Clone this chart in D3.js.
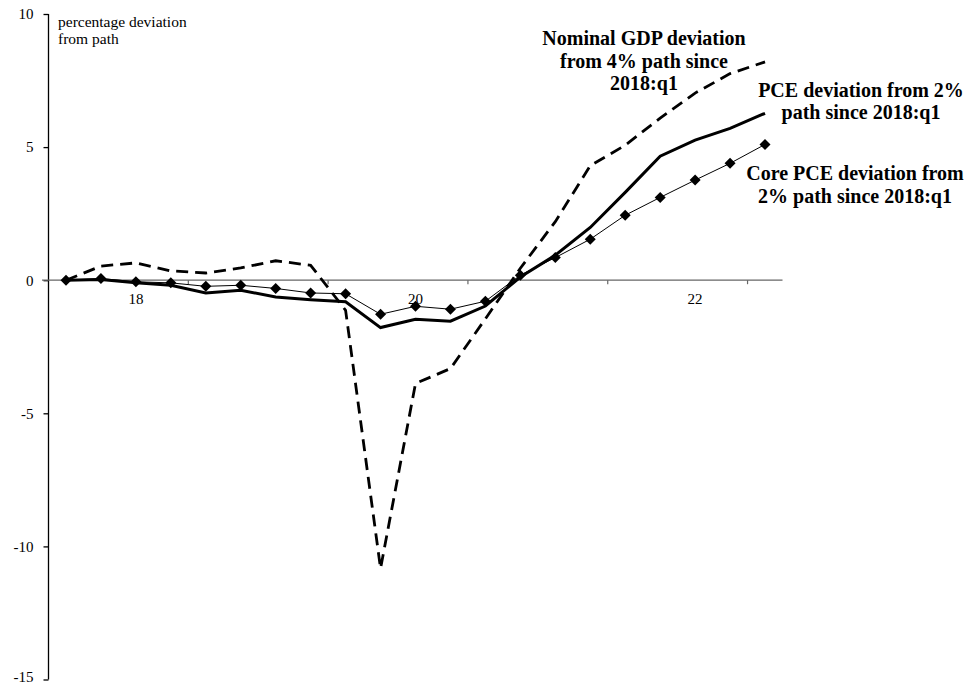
<!DOCTYPE html>
<html>
<head>
<meta charset="utf-8">
<script src="https://cdn.jsdelivr.net/npm/d3@7"></script>
<style>
  html, body { margin: 0; padding: 0; background: #fff; }
  svg { display: block; }
  text { font-family: "Liberation Serif", "Times New Roman", serif; fill: #000; }
</style>
</head>
<body>
<svg id="chart" width="971" height="686"></svg>
<script>
// ---- data ----
const quarters = [
  "2018Q1","2018Q2","2018Q3","2018Q4",
  "2019Q1","2019Q2","2019Q3","2019Q4",
  "2020Q1","2020Q2","2020Q3","2020Q4",
  "2021Q1","2021Q2","2021Q3","2021Q4",
  "2022Q1","2022Q2","2022Q3","2022Q4",
  "2023Q1"
];
const nominalGDP = [0, 0.53, 0.65, 0.35, 0.27, 0.46, 0.73, 0.56, -1.13, -10.83, -3.88, -3.32, -1.45, 0.45, 2.2, 4.3, 5.07, 6.09, 7.03, 7.76, 8.2];
const pce        = [0, 0.03, -0.1, -0.19, -0.48, -0.38, -0.63, -0.73, -0.81, -1.78, -1.47, -1.54, -0.97, 0.12, 0.94, 1.98, 3.3, 4.66, 5.26, 5.7, 6.27];
const corePce    = [0, 0.06, -0.06, -0.1, -0.23, -0.19, -0.31, -0.48, -0.51, -1.28, -0.98, -1.09, -0.79, 0.19, 0.85, 1.54, 2.44, 3.11, 3.76, 4.39, 5.1];
const yTicks = [10, 5, 0, -5, -10, -15];
const xLabelQuarters = ["2018Q3", "2020Q3", "2022Q3"];
const xLabels = ["18", "20", "22"];
const xBoundaryQuarters = ["2019Q1", "2020Q1", "2021Q1", "2022Q1", "2023Q1"];
const yUnitLabel = ["percentage deviation", "from path"];
const labelNGDP = ["Nominal GDP deviation", "from 4% path since", "2018:q1"];
const labelPCE = ["PCE deviation from 2%", "path since 2018:q1"];
const labelCore = ["Core PCE deviation from", "2% path since 2018:q1"];

// ---- chart ----
const svg = d3.select("#chart");
const x = d3.scalePoint().domain(quarters).range([48.5, 782.5]).padding(0.5);
const y = d3.scaleLinear().domain([-15, 10]).range([679.5, 14]);
const step = x.step();

// y axis
const yAxis = svg.append("g").attr("transform", "translate(48.5,0)")
  .call(d3.axisLeft(y).tickValues(yTicks).tickSize(5).tickPadding(10).tickFormat(d => String(d)));
yAxis.attr("font-family", null).attr("font-size", null);
yAxis.select(".domain").attr("stroke", "#000").attr("stroke-width", 1.3).attr("d", `M0,${y(10)}V${y(-15)}`);
yAxis.selectAll(".tick line").attr("stroke", "#000").attr("stroke-width", 1.3);
yAxis.selectAll(".tick text").style("font-size", "15px").attr("dy", d => d === -15 ? "0.15em" : "0.32em");

// x axis (zero line)
const x0 = y(0);
svg.append("line").attr("x1", 42).attr("x2", 782.5).attr("y1", x0).attr("y2", x0)
  .attr("stroke", "#666").attr("stroke-width", 1.2);
svg.selectAll(".xtick").data(xBoundaryQuarters).enter().append("line")
  .attr("x1", d => x(d) - step / 2).attr("x2", d => x(d) - step / 2)
  .attr("y1", x0).attr("y2", x0 + 4).attr("stroke", "#666").attr("stroke-width", 1.2);
svg.selectAll(".xlab").data(xLabelQuarters).enter().append("text")
  .attr("x", d => x(d)).attr("y", x0 + 24).attr("text-anchor", "middle")
  .style("font-size", "15px").text((d, i) => xLabels[i]);

// unit label
svg.selectAll(".unit").data(yUnitLabel).enter().append("text")
  .attr("x", 58).attr("y", (d, i) => 26.5 + i * 17).style("font-size", "15.5px").text(d => d);

const line = d3.line().x((d, i) => x(quarters[i])).y(d => y(d));

svg.append("path").datum(nominalGDP).attr("d", line).attr("fill", "none")
  .attr("stroke", "#000").attr("stroke-width", 2.8).attr("stroke-dasharray", "12,7");
svg.append("path").datum(pce).attr("d", line).attr("fill", "none")
  .attr("stroke", "#000").attr("stroke-width", 3);
svg.append("path").datum(corePce).attr("d", line).attr("fill", "none")
  .attr("stroke", "#000").attr("stroke-width", 1);
svg.selectAll(".dia").data(corePce).enter().append("path")
  .attr("transform", (d, i) => `translate(${x(quarters[i])},${y(d)})`)
  .attr("d", "M0,-5.5L5.5,0L0,5.5L-5.5,0Z").attr("fill", "#000");

function block(lines, cx, baseline, lh) {
  svg.append("g").selectAll("text").data(lines).enter().append("text")
    .attr("x", cx).attr("y", (d, i) => baseline + i * lh).attr("text-anchor", "middle")
    .style("font-size", "20px").style("font-weight", "bold").text(d => d);
}
block(labelNGDP, 644, 45, 22.5);
block(labelPCE, 861, 96.5, 22);
block(labelCore, 855, 180, 22.5);
</script>
</body>
</html>
